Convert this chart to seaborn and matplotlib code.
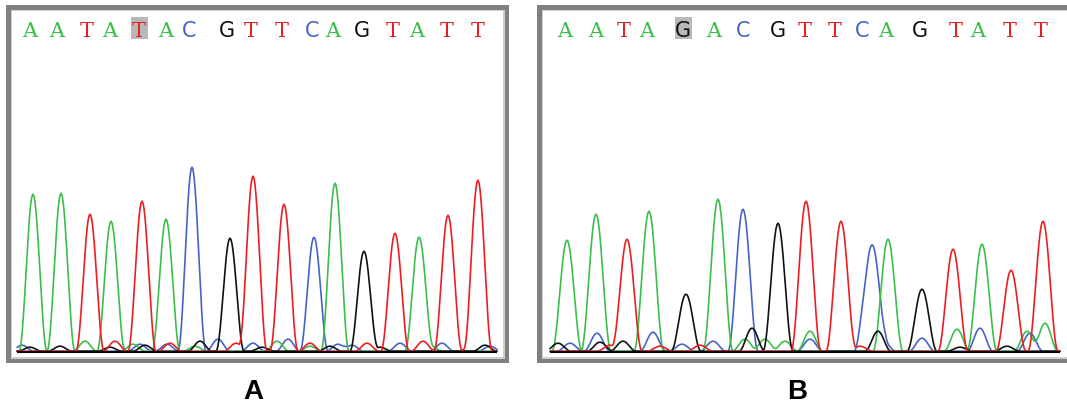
import numpy as np
import pandas as pd
import matplotlib
matplotlib.use("Agg")
import matplotlib.pyplot as plt
import seaborn as sns
from matplotlib.patches import Rectangle

sns.set_theme(style="white")
plt.rcParams["font.family"] = ["DejaVu Sans"]

# ---------------- data ----------------
BASE_COLORS = {"A": "#3cbe4b", "C": "#4664c8", "G": "#111111", "T": "#eb1e23"}

# Panel A (wild type)
seq_a = list("AATATACGTTCAGTATT")
call_scan_a = [19, 46, 76, 99, 128, 155, 178, 216, 240, 271, 301, 322, 351, 382, 406, 436, 467]
peak_scan_a = [22, 50, 79, 100, 131, 155, 181, 219, 242, 273, 303, 324, 353, 384, 408, 437, 467]
peak_height_a = [157, 158, 137, 130, 150, 132, 184, 113, 175, 147, 114, 168, 100, 118, 114, 136, 170]
highlight_a = 4
minor_base_a = list("CCCCCCCCCCC" "GGGGGGGGG" "AAAAAA" "TTTTTTT")
minor_scan_a = [11, 129, 156, 207, 242, 277, 327, 341, 389, 431, 479,
                19, 49, 99, 134, 189, 251, 319, 369, 474,
                74, 122, 184, 266, 299, 419,
                104, 159, 225, 299, 356, 412, 459]
minor_height_a = [6, 7, 7, 12, 8, 12, 7, 6, 8, 8, 5,
                  4, 5, 4, 6, 10, 4, 5, 4, 6,
                  10, 7, 5, 10, 5, 6,
                  10, 8, 8, 8, 8, 10, 4]
trace_range_a = (6, 486)

# Panel B (mutant)
seq_b = list("AATAGACGTTCAGTATT")
call_scan_b = [24, 55, 83, 106, 142, 173, 202, 237, 264, 294, 321, 345, 379, 415, 437, 469, 500]
peak_scan_b = [26, 55, 86, 108, 145, 177, 202, 237, 265, 300, 328, 347, 381, 412, 441, 470, 502]
peak_height_b = [111, 137, 112, 140, 57, 152, 142, 128, 150, 130, 78, 112, 62, 102, 107, 81, 130]
highlight_b = 4
minor_base_b = list("GGGGGGG" "CCCCCCCCCCC" "AAAAAAA" "TTTT")
minor_scan_b = [17, 59, 82, 211, 337, 419, 466,
                29, 56, 112, 141, 172, 269, 335, 342, 381, 439, 489,
                204, 224, 244, 269, 416, 486, 504,
                69, 119, 159, 319]
minor_height_b = [8, 9, 10, 23, 20, 4, 5,
                  8, 18, 19, 7, 10, 12, 45, 10, 13, 23, 18,
                  12, 12, 10, 20, 22, 20, 28,
                  6, 5, 6, 5]
trace_range_b = (9, 519)

W, H = 1067, 406
fig = plt.figure(figsize=(W / 100, H / 100), dpi=100)
fig.patch.set_facecolor("white")


def fig_rect(l, t, r, b):
    return [l / W, 1 - b / H, (r - l) / W, (b - t) / H]


def add_frame(l, t, r, b):
    fig.add_artist(Rectangle((l / W, 1 - b / H), (r - l) / W, (b - t) / H,
                             transform=fig.transFigure, facecolor="#808080",
                             edgecolor="none", zorder=-3))
    fig.add_artist(Rectangle(((l + 4.5) / W, 1 - (b - 4.5) / H), (r - l - 9) / W, (b - t - 9) / H,
                             transform=fig.transFigure, facecolor="#cfcfcf",
                             edgecolor="none", zorder=-2))
    fig.add_artist(Rectangle(((l + 6) / W, 1 - (b - 6) / H), (r - l - 12) / W, (b - t - 12) / H,
                             transform=fig.transFigure, facecolor="white",
                             edgecolor="none", zorder=-1))


def hann_peak(scans, centre, height, half_width):
    d = np.abs(scans - centre)
    out = height * np.cos(np.pi * d / (2 * half_width)) ** 2
    return np.where(d < half_width, out, 0.0)


def build_traces(peak_scan, peak_height, seq, minor_base, minor_scan, minor_height,
                 trange, hw_main, hw_minor):
    scans = np.arange(trange[0], trange[1] + 1, 1.0)
    rows = []
    for base in ["C", "A", "G", "T"]:
        sig = np.full_like(scans, 0.8)
        for b, s, h in zip(seq, peak_scan, peak_height):
            if b == base:
                sig += hann_peak(scans, s, h, hw_main)
        for b, s, h in zip(minor_base, minor_scan, minor_height):
            if b == base:
                sig += hann_peak(scans, s, h, hw_minor)
        rows.append(pd.DataFrame({"scan": scans, "signal": sig, "base": base}))
    return pd.concat(rows, ignore_index=True)


def draw_panel(rect, xmax, seq, call_scan, hl, df, trange):
    ax = fig.add_axes(fig_rect(*rect))
    ax.set_facecolor("none")
    sns.lineplot(data=df, x="scan", y="signal", hue="base", hue_order=["C", "A", "G", "T"],
                 palette=BASE_COLORS, estimator=None, sort=False, legend=False,
                 linewidth=1.2, ax=ax)
    ax.hlines(0, trange[0], trange[1], color="black", linewidth=1.5, zorder=5)
    for i, (b, s) in enumerate(zip(seq, call_scan)):
        fam = "DejaVu Serif" if b in "AT" else "DejaVu Sans"
        if i == hl:
            ax.add_patch(Rectangle((s - 8.5, 313), 17, 22, facecolor="#b8b8b8",
                                   edgecolor="none", zorder=1))
        ax.text(s, 316, b, color=BASE_COLORS[b], fontsize=15, family=fam,
                ha="center", va="baseline", zorder=3)
    ax.set_xlim(0, xmax)
    ax.set_ylim(-6, 343)
    ax.axis("off")
    return ax


add_frame(6, 6, 509, 364)
add_frame(537, 6, 1080, 364)

df_a = build_traces(peak_scan_a, peak_height_a, seq_a, minor_base_a, minor_scan_a,
                    minor_height_a, trace_range_a, 14, 12)
df_b = build_traces(peak_scan_b, peak_height_b, seq_b, minor_base_b, minor_scan_b,
                    minor_height_b, trace_range_b, 15, 13)

draw_panel((11, 10, 505, 359), 494, seq_a, call_scan_a, highlight_a, df_a, trace_range_a)
draw_panel((541, 10, 1067, 359), 526, seq_b, call_scan_b, highlight_b, df_b, trace_range_b)

fig.text(253.5 / W, 1 - 399 / H, "A", ha="center", va="baseline", fontsize=20,
         weight="bold", family="Liberation Sans", color="black")
fig.text(797 / W, 1 - 399 / H, "B", ha="center", va="baseline", fontsize=20,
         weight="bold", family="Liberation Sans", color="black")

fig.savefig("out.png", dpi=100, facecolor="white")
